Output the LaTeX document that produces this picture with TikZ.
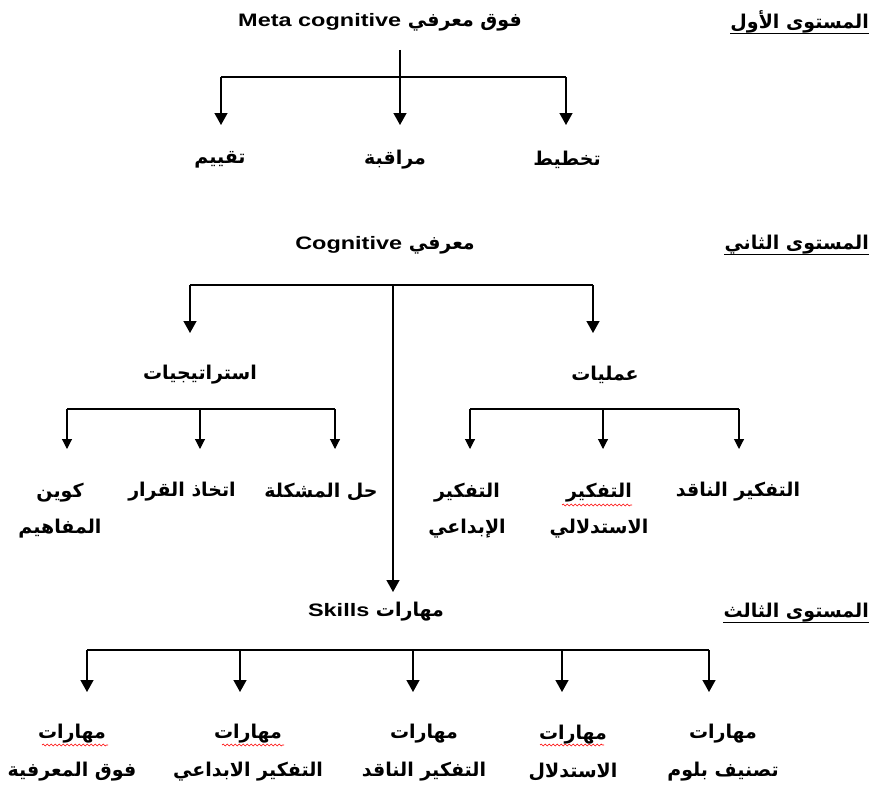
\documentclass[tikz,border=0pt]{standalone}
\usepackage{fontspec}
\usetikzlibrary{arrows.meta,decorations.pathmorphing}
\setmainfont{Liberation Sans}
\newfontfamily\latinfont[FakeStretch=1.3,Scale=0.95]{Liberation Sans}
\newfontfamily\arabicfont[Script=Arabic]{DejaVu Sans}
\TeXXeTstate=1
\newcommand{\ar}[1]{\beginR#1\endR}
\tikzset{
  lbl/.style={inner sep=0pt, align=center, font=\arabicfont\bfseries\fontsize{19}{22}\selectfont},
  lvl/.style={lbl, anchor=east},
  bar/.style={line width=1.4pt},
  arr/.style={line width=1.4pt, -{Triangle[width=13pt,length=12pt]}},
  arrs/.style={line width=1.1pt, -{Triangle[width=10pt,length=10pt]}},
  spell/.style={red, line width=0.6pt, decorate, decoration={snake, amplitude=0.9pt, segment length=4pt}}
}
\begin{document}
\begin{tikzpicture}[x=1pt,y=-1pt]
  \useasboundingbox (0,0) rectangle (874,792);
  \node[lbl] (meta) at (380,22) {{\latinfont Meta cognitive} \ar{فوق معرفي}};
  \node[lvl] (lv1) at (869,22) {\ar{المستوى الأول}};
  \node[lbl] (plan) at (567,160) {\ar{تخطيط}};
  \node[lbl] (monitor) at (395,160) {\ar{مراقبة}};
  \node[lbl] (assess) at (220,160) {\ar{تقييم}};
  \node[lbl] (cog) at (385,245) {{\latinfont Cognitive} \ar{معرفي}};
  \node[lvl] (lv2) at (869,245) {\ar{المستوى الثاني}};
  \node[lbl] (strat) at (200,375) {\ar{استراتيجيات}};
  \node[lbl] (proc) at (605,375) {\ar{عمليات}};
  \node[lbl] (problem) at (321,492) {\ar{حل المشكلة}};
  \node[lbl] (decide) at (182,492) {\ar{اتخاذ القرار}};
  \node[lbl] (concepts) at (60,511) {\ar{كوين}\\[14pt] \ar{المفاهيم}};
  \node[lbl] (critical) at (738,492) {\ar{التفكير الناقد}};
  \node[lbl] (deduct) at (599,511) {\ar{التفكير}\\[14pt] \ar{الاستدلالي}};
  \node[lbl] (creative) at (467,511) {\ar{التفكير}\\[14pt] \ar{الإبداعي}};
  \node[lbl] (skills) at (376,612) {{\latinfont Skills} \ar{مهارات}};
  \node[lvl] (lv3) at (869,613) {\ar{المستوى الثالث}};
  \node[lbl] (sk-meta) at (72,753) {\ar{مهارات}\\[16pt] \ar{فوق المعرفية}};
  \node[lbl] (sk-creative) at (248,753) {\ar{مهارات}\\[16pt] \ar{التفكير الابداعي}};
  \node[lbl] (sk-critical) at (424,753) {\ar{مهارات}\\[16pt] \ar{التفكير الناقد}};
  \node[lbl] (sk-deduct) at (573,753) {\ar{مهارات}\\[16pt] \ar{الاستدلال}};
  \node[lbl] (sk-bloom) at (723,753) {\ar{مهارات}\\[16pt] \ar{تصنيف بلوم}};
  \foreach \n in {lv1,lv2,lv3}
    \draw[line width=1.1pt] ([yshift=-5pt]\n.base west) -- ([yshift=-5pt]\n.base east);
  \coordinate (meta-stem) at (400,50);
  \coordinate (cog-stem) at (393,285);
  \coordinate (skills-tip) at (393,592);
  \foreach \x/\n in {221/a,400/b,566/c} {
    \coordinate (l1-\n) at (\x,77);
    \coordinate (l1-\n-tip) at (\x,125);
    \draw[arr] (l1-\n) -- (l1-\n-tip);
  }
  \draw[bar] (meta-stem) -- (l1-b);
  \draw[bar] (l1-a) -- (l1-c);
  \foreach \x/\n in {190/a,593/c} {
    \coordinate (l2-\n) at (\x,285);
    \coordinate (l2-\n-tip) at (\x,333);
    \draw[arr] (l2-\n) -- (l2-\n-tip);
  }
  \draw[bar] (l2-a) -- (l2-c);
  \draw[arr] (cog-stem) -- (skills-tip);
  \foreach \x/\n in {67/a,200/b,335/c} {
    \coordinate (st-\n) at (\x,409);
    \coordinate (st-\n-tip) at (\x,449);
    \draw[arrs] (st-\n) -- (st-\n-tip);
  }
  \draw[bar,line width=1.1pt] (st-a) -- (st-c);
  \foreach \x/\n in {470/a,603/b,739/c} {
    \coordinate (pr-\n) at (\x,409);
    \coordinate (pr-\n-tip) at (\x,449);
    \draw[arrs] (pr-\n) -- (pr-\n-tip);
  }
  \draw[bar,line width=1.1pt] (pr-a) -- (pr-c);
  \foreach \x/\n in {87/a,240/b,413/c,562/d,709/e} {
    \coordinate (sk-\n) at (\x,650);
    \coordinate (sk-\n-tip) at (\x,692);
    \draw[arr] (sk-\n) -- (sk-\n-tip);
  }
  \draw[bar] (sk-a) -- (sk-e);
  \draw[spell] (562,505) -- (632,505);
  \draw[spell] (42,745) -- (108,745);
  \draw[spell] (222,745) -- (284,745);
  \draw[spell] (540,745) -- (604,745);
\end{tikzpicture}
\end{document}
